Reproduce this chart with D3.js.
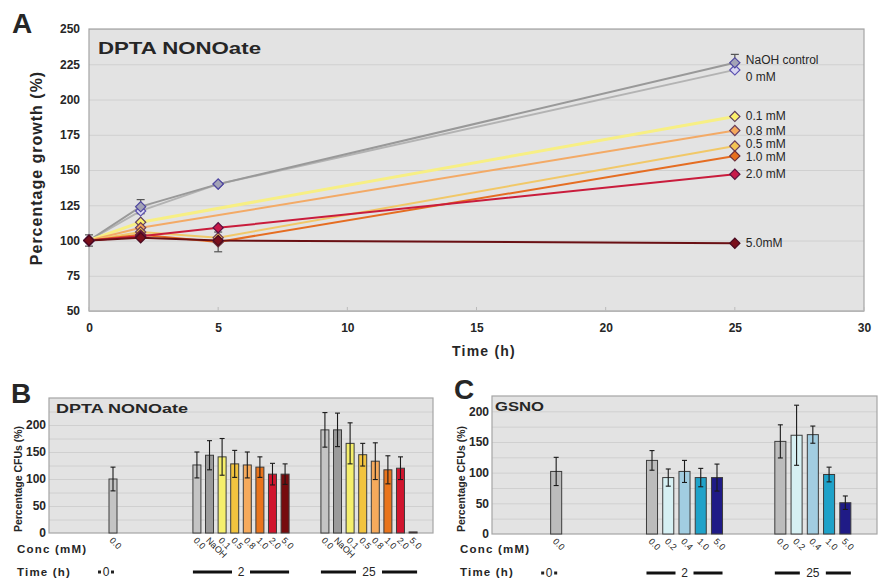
<!DOCTYPE html>
<html>
<head>
<meta charset="utf-8">
<script src="https://cdn.jsdelivr.net/npm/d3@7"></script>
<style>
body { margin: 0; background: #fff; }
text { font-family: "Liberation Sans", Arial, sans-serif; fill: #262626; }
</style>
</head>
<body>
<div id="chart-area"></div>
<script>

// ---- Panel A data (percentage growth over time) ----
var times = [0, 2, 5, 25];
var seriesNames = ["0 mM", "NaOH control", "0.1 mM", "0.8 mM", "0.5 mM", "1.0 mM", "2.0 mM", "5.0mM"];
var growth0 = [100, 121, 140, 221];
var growthNaOH = [100, 124, 140, 226];
var growth01 = [100, 113, null, 188];
var growth08 = [100, 109, null, 178];
var growth05 = [100, 106, 102, 167];
var growth10 = [100, 104, 99, 160];
var growth20 = [100, 103, 109, 147];
var growth50 = [100, 102, 100, 98];
var errNaOH = [4, 5, 0, 6];
var err10 = [0, 0, 7, 0];
var yTicksA = [50, 75, 100, 125, 150, 175, 200, 225, 250];
var xTicksA = [0, 5, 10, 15, 20, 25, 30];

// ---- Panel B data (DPTA NONOate CFUs) ----
var timeGroups = ["0", "2", "25"];
var concB0 = ["0.0"];
var concB = ["0.0", "NaOH", "0.1", "0.5", "0.8", "1.0", "2.0", "5.0"];
var cfuB0 = [100];
var cfuB2 = [126, 144, 141, 128, 126, 122, 109, 109];
var cfuB25 = [191, 191, 166, 145, 133, 117, 120, 2];
var errB0 = [22];
var errB2 = [24, 27, 34, 25, 24, 19, 20, 19];
var errB25 = [32, 31, 38, 21, 34, 26, 21, 0];

// ---- Panel C data (GSNO CFUs) ----
var concC0 = ["0.0"];
var concC = ["0.0", "0.2", "0.4", "1.0", "5.0"];
var cfuC0 = [102];
var cfuC2 = [120, 92, 102, 92, 92];
var cfuC25 = [151, 161, 162, 97, 51];
var errC0 = [23];
var errC2 = [16, 14, 18, 15, 22];
var errC25 = [27, 49, 14, 12, 11];
var yTicksBC = [0, 50, 100, 150, 200];

var svg = d3.select("#chart-area").append("svg")
    .attr("width", 880)
    .attr("height", 580);

// ================= Panel A =================
var widthA = 775, heightA = 282;
var gA = svg.append("g").attr("transform", "translate(89,29)");

var xA = d3.scaleLinear().domain([0, 30]).range([0, widthA]);
var yA = d3.scaleLinear().domain([50, 250]).range([heightA, 0]);

gA.append("rect").attr("width", widthA).attr("height", heightA).attr("fill", "#e3e3e3");

var gridA = gA.append("g")
    .call(d3.axisLeft(yA).tickValues(yTicksA).tickSize(-widthA).tickFormat(""));
gridA.select(".domain").remove();
gridA.selectAll("line").attr("stroke", "#d0d0d0");

gA.append("rect").attr("width", widthA).attr("height", heightA)
    .attr("fill", "none").attr("stroke", "#a5a5a5").attr("stroke-width", 1.2);

var yAxisA = gA.append("g")
    .call(d3.axisLeft(yA).tickValues(yTicksA).tickSize(0).tickPadding(9));
yAxisA.select(".domain").remove();
yAxisA.selectAll("text").attr("font-size", 12).attr("font-weight", "bold").attr("fill", "#333");

var xAxisA = gA.append("g").attr("transform", "translate(0," + heightA + ")")
    .call(d3.axisBottom(xA).tickValues(xTicksA).tickSize(0).tickPadding(12));
xAxisA.select(".domain").remove();
xAxisA.selectAll("text").attr("font-size", 12).attr("font-weight", "bold").attr("fill", "#333");

// small tick marks on the bottom border
gA.selectAll(".xtick").data(xTicksA).enter().append("line")
    .attr("x1", function(d) { return xA(d); }).attr("x2", function(d) { return xA(d); })
    .attr("y1", heightA).attr("y2", heightA - 4)
    .attr("stroke", "#bbb");

var seriesA = [
    {name: seriesNames[0], values: growth0, err: null, line: "#b3b3b3", fill: "#d9d6f2", stroke: "#5a50b0", w: 2, dy: 7},
    {name: seriesNames[1], values: growthNaOH, err: errNaOH, line: "#999999", fill: "#a3a3b6", stroke: "#4f479f", w: 2, dy: -3},
    {name: seriesNames[2], values: growth01, err: null, line: "#f7ef84", fill: "#fbf06c", stroke: "#5e3d5e", w: 3, dy: 0},
    {name: seriesNames[3], values: growth08, err: null, line: "#f3aa66", fill: "#f5a85c", stroke: "#6a3d5a", w: 2, dy: 0},
    {name: seriesNames[4], values: growth05, err: null, line: "#f1c868", fill: "#f3c454", stroke: "#6a3d5a", w: 2, dy: -2},
    {name: seriesNames[5], values: growth10, err: err10, line: "#e56d22", fill: "#e8701e", stroke: "#6a2d3a", w: 2, dy: 1.5},
    {name: seriesNames[6], values: growth20, err: null, line: "#c91c3c", fill: "#c8184a", stroke: "#5a1040", w: 2, dy: 0},
    {name: seriesNames[7], values: growth50, err: null, line: "#6a1014", fill: "#7a0f1c", stroke: "#4a0a20", w: 2, dy: 0}
];

seriesA.forEach(function(s) {
    s.points = times.map(function(t, i) {
        return {t: t, v: s.values[i], e: s.err ? s.err[i] : 0};
    }).filter(function(p) { return p.v !== null; });
});

var lineA = d3.line()
    .x(function(p) { return xA(p.t); })
    .y(function(p) { return yA(p.v); });

gA.selectAll(".series-line").data(seriesA).enter().append("path")
    .attr("d", function(s) { return lineA(s.points); })
    .attr("fill", "none")
    .attr("stroke", function(s) { return s.line; })
    .attr("stroke-width", function(s) { return s.w; });

// error bars
seriesA.forEach(function(s) {
    var pts = s.points.filter(function(p) { return p.e > 0; });
    var eg = gA.append("g").attr("stroke", "#555").attr("stroke-width", 1.2);
    pts.forEach(function(p) {
        var cx = xA(p.t);
        eg.append("line").attr("x1", cx).attr("x2", cx).attr("y1", yA(p.v - p.e)).attr("y2", yA(p.v + p.e));
        eg.append("line").attr("x1", cx - 4).attr("x2", cx + 4).attr("y1", yA(p.v - p.e)).attr("y2", yA(p.v - p.e));
        eg.append("line").attr("x1", cx - 4).attr("x2", cx + 4).attr("y1", yA(p.v + p.e)).attr("y2", yA(p.v + p.e));
    });
});

var diamond = d3.symbol().type(d3.symbolSquare).size(52);
seriesA.forEach(function(s) {
    gA.selectAll(null).data(s.points).enter().append("path")
        .attr("d", diamond)
        .attr("transform", function(p) { return "translate(" + xA(p.t) + "," + yA(p.v) + ") rotate(45)"; })
        .attr("fill", s.fill)
        .attr("stroke", s.stroke)
        .attr("stroke-width", 1.2);
});

gA.selectAll(".series-label").data(seriesA).enter().append("text")
    .attr("x", xA(25) + 11)
    .attr("y", function(s) { return yA(s.values[3]) + 4 + s.dy; })
    .attr("font-size", 12)
    .attr("fill", "#333")
    .text(function(s) { return s.name; });

gA.append("text").attr("x", 9).attr("y", 25)
    .attr("font-size", 17).attr("font-weight", "bold")
    .attr("textLength", 163).attr("lengthAdjust", "spacingAndGlyphs")
    .text("DPTA NONOate");

svg.append("text").attr("x", 12).attr("y", 33)
    .attr("font-size", 28).attr("font-weight", "bold").attr("fill", "#111")
    .text("A");

svg.append("text")
    .attr("transform", "translate(42,168) rotate(-90)")
    .attr("text-anchor", "middle")
    .attr("font-size", 16).attr("font-weight", "bold").attr("fill", "#333")
    .attr("letter-spacing", 1)
    .text("Percentage growth (%)");

svg.append("text").attr("x", 484).attr("y", 356)
    .attr("text-anchor", "middle")
    .attr("font-size", 14).attr("font-weight", "bold").attr("fill", "#333")
    .attr("letter-spacing", 1.2)
    .text("Time (h)");

// ================= Panels B and C =================
var colorsB = {"0.0": "#c4c4c4", "NaOH": "#9b9b9b", "0.1": "#f5ef6c", "0.5": "#f2c43f", "0.8": "#f6aa5c",
               "1.0": "#e9741c", "2.0": "#d0152e", "5.0": "#760b0e"};
var colorsC = {"0.0": "#bcbcbc", "0.2": "#d6f0f3", "0.4": "#a2cde1", "1.0": "#1fa2c9", "5.0": "#1f1b86"};

function drawBarPanel(opt) {
    var g = svg.append("g").attr("transform", "translate(" + opt.left + "," + opt.top + ")");

    var x = d3.scaleBand().domain(opt.groups.map(function(d) { return d.time; })).range([0, opt.width]);
    var y = d3.scaleLinear().domain([0, opt.yMax]).range([opt.height, 0]);

    g.append("rect").attr("width", opt.width).attr("height", opt.height).attr("fill", "#e3e3e3");

    var grid = g.append("g")
        .call(d3.axisLeft(y).tickValues(opt.grid).tickSize(-opt.width).tickFormat(""));
    grid.select(".domain").remove();
    grid.selectAll("line").attr("stroke", "#d0d0d0");

    g.append("rect").attr("width", opt.width).attr("height", opt.height)
        .attr("fill", "none").attr("stroke", "#a5a5a5").attr("stroke-width", 1.2);

    var yAxis = g.append("g").call(d3.axisLeft(y).tickValues(opt.ticks).tickSize(0).tickPadding(3));
    yAxis.select(".domain").remove();
    yAxis.selectAll("text").attr("font-size", 12).attr("font-weight", "bold").attr("fill", "#333");

    g.append("text").attr("x", opt.titleX).attr("y", 15)
        .attr("font-size", 13.5).attr("font-weight", "bold")
        .attr("textLength", opt.titleLen).attr("lengthAdjust", "spacingAndGlyphs")
        .text(opt.title);

    opt.groups.forEach(function(grp) {
        var n = grp.conc.length;
        var step = x.bandwidth() * opt.slot;
        var c = x(grp.time) + x.bandwidth() / 2;
        var inner = d3.scaleBand().domain(grp.conc)
            .range([c - n * step / 2, c + n * step / 2])
            .paddingInner(opt.pad).paddingOuter(opt.pad / 2);

        var rows = grp.conc.map(function(k, i) { return {conc: k, v: grp.values[i], e: grp.err[i]}; });

        g.selectAll(null).data(rows).enter().append("rect")
            .attr("x", function(d) { return inner(d.conc); })
            .attr("y", function(d) { return y(d.v); })
            .attr("width", inner.bandwidth())
            .attr("height", function(d) { return opt.height - y(d.v); })
            .attr("fill", function(d) { return opt.colors[d.conc]; })
            .attr("stroke", "#3c3c3c")
            .attr("stroke-width", 1);

        var eg = g.append("g").attr("stroke", "#1a1a1a").attr("stroke-width", 1.1);
        rows.filter(function(d) { return d.e > 0; }).forEach(function(d) {
            var cx = inner(d.conc) + inner.bandwidth() / 2;
            eg.append("line").attr("x1", cx).attr("x2", cx).attr("y1", y(d.v - d.e)).attr("y2", y(d.v + d.e));
            eg.append("line").attr("x1", cx - 2.5).attr("x2", cx + 2.5).attr("y1", y(d.v - d.e)).attr("y2", y(d.v - d.e));
            eg.append("line").attr("x1", cx - 2.5).attr("x2", cx + 2.5).attr("y1", y(d.v + d.e)).attr("y2", y(d.v + d.e));
        });

        // rotated concentration labels
        g.selectAll(null).data(rows).enter().append("text")
            .attr("transform", function(d) {
                var cx = inner(d.conc) + inner.bandwidth() / 2;
                return "translate(" + (cx - 4) + "," + (opt.height + 8) + ") rotate(45)";
            })
            .attr("font-size", 9)
            .attr("fill", "#333")
            .text(function(d) { return d.conc; });

        // time row
        var ty = opt.height + 39;
        if (n === 1) {
            var tx = c - 7;
            g.append("text").attr("x", tx).attr("y", ty + 4).attr("text-anchor", "middle")
                .attr("font-size", 12).text(grp.time);
            g.append("rect").attr("x", tx - 8).attr("y", ty - 1.5).attr("width", 3).attr("height", 3).attr("fill", "#222");
            g.append("rect").attr("x", tx + 5).attr("y", ty - 1.5).attr("width", 3).attr("height", 3).attr("fill", "#222");
        } else {
            var x0 = inner(grp.conc[0]), x1 = inner(grp.conc[n - 1]) + inner.bandwidth();
            var gap = grp.time.length * 4 + 5;
            g.append("line").attr("x1", x0).attr("x2", c - gap).attr("y1", ty).attr("y2", ty)
                .attr("stroke", "#111").attr("stroke-width", 3);
            g.append("line").attr("x1", c + gap).attr("x2", x1).attr("y1", ty).attr("y2", ty)
                .attr("stroke", "#111").attr("stroke-width", 3);
            g.append("text").attr("x", c).attr("y", ty + 4).attr("text-anchor", "middle")
                .attr("font-size", 12).text(grp.time);
        }
    });

    svg.append("text").attr("x", opt.left - 38)
        .attr("y", opt.letterY)
        .attr("font-size", 28).attr("font-weight", "bold").attr("fill", "#111")
        .text(opt.letter);

    svg.append("text")
        .attr("transform", "translate(" + (opt.left - 27) + ",479) rotate(-90)")
        .attr("text-anchor", "middle")
        .attr("font-size", 10.5).attr("font-weight", "bold").attr("fill", "#333")
        .text("Percentage CFUs (%)");

    svg.append("text").attr("x", opt.left - 32).attr("y", 553)
        .attr("font-size", 11.5).attr("font-weight", "bold").attr("fill", "#333")
        .attr("letter-spacing", 1.2)
        .text("Conc (mM)");
    svg.append("text").attr("x", opt.left - 32).attr("y", 576)
        .attr("font-size", 11.5).attr("font-weight", "bold").attr("fill", "#333")
        .attr("letter-spacing", 1.2)
        .text("Time (h)");
}

drawBarPanel({
    left: 49, top: 398, width: 384, height: 135, yMax: 250,
    ticks: yTicksBC, grid: [25, 50, 75, 100, 125, 150, 175, 200, 225],
    slot: 0.0984, pad: 0.365, colors: colorsB,
    title: "DPTA NONOate", titleX: 7, titleLen: 132,
    letter: "B", letterY: 403,
    groups: [
        {time: timeGroups[0], conc: concB0, values: cfuB0, err: errB0},
        {time: timeGroups[1], conc: concB, values: cfuB2, err: errB2},
        {time: timeGroups[2], conc: concB, values: cfuB25, err: errB25}
    ]
});

drawBarPanel({
    left: 492, top: 396, width: 385, height: 138, yMax: 225,
    ticks: yTicksBC, grid: [25, 50, 75, 100, 125, 150, 175, 200],
    slot: 0.1266, pad: 0.32, colors: colorsC,
    title: "GSNO", titleX: 3, titleLen: 49,
    letter: "C", letterY: 399,
    groups: [
        {time: timeGroups[0], conc: concC0, values: cfuC0, err: errC0},
        {time: timeGroups[1], conc: concC, values: cfuC2, err: errC2},
        {time: timeGroups[2], conc: concC, values: cfuC25, err: errC25}
    ]
});

</script>
</body>
</html>
